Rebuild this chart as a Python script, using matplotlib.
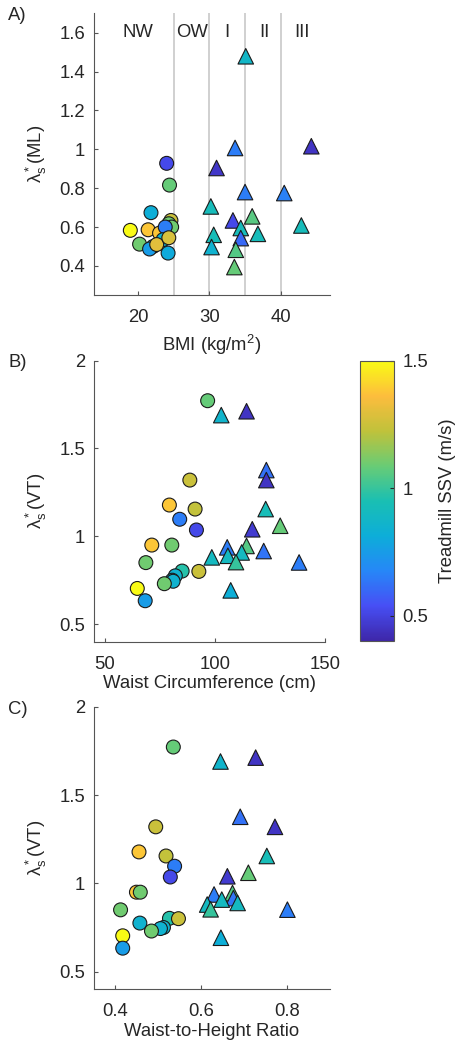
import numpy as np
import matplotlib.pyplot as plt
from matplotlib.colors import LinearSegmentedColormap, Normalize
from matplotlib.ticker import FormatStrFormatter

plt.rcParams['font.family'] = ['Liberation Sans', 'DejaVu Sans']
plt.rcParams['mathtext.fontset'] = 'custom'
plt.rcParams['mathtext.rm'] = 'Liberation Sans'
plt.rcParams['mathtext.it'] = 'Liberation Sans:italic'
plt.rcParams['mathtext.sf'] = 'Liberation Sans'

# ---- panel A: BMI vs lambda*(ML) ----
bmi_nw = [24.0, 24.4, 21.8, 18.9, 21.4, 23.0, 24.6, 24.3, 24.7, 23.8, 20.2, 22.1, 21.6, 23.5, 24.2, 22.6, 24.3]
ml_nw = [0.928, 0.816, 0.674, 0.583, 0.586, 0.569, 0.634, 0.617, 0.600, 0.600, 0.512, 0.500, 0.487, 0.535, 0.466, 0.510, 0.545]
ssv_a_nw = [0.52, 1.08, 0.82, 1.50, 1.38, 1.38, 1.25, 1.10, 1.10, 0.65, 1.10, 0.85, 0.75, 0.85, 0.80, 1.30, 1.28]

bmi_ob = [35.1, 33.6, 44.3, 31.0, 35.0, 40.5, 30.2, 36.0, 33.3, 42.9, 34.4, 36.8, 30.6, 34.4, 30.3, 33.7, 33.5]
ml_ob = [1.479, 1.007, 1.016, 0.904, 0.780, 0.775, 0.706, 0.655, 0.634, 0.608, 0.595, 0.565, 0.560, 0.543, 0.497, 0.483, 0.394]
ssv_a_ob = [0.88, 0.65, 0.45, 0.46, 0.65, 0.66, 0.92, 1.06, 0.52, 0.92, 0.92, 0.92, 0.93, 0.60, 0.85, 1.05, 1.08]

# ---- panels B and C: waist, waist-to-height vs lambda*(VT) ----
waist_nw = [96.7, 88.6, 79.3, 91.0, 84.0, 91.6, 71.3, 80.4, 68.6, 85.1, 92.7, 82.0, 80.6, 81.0, 77.0, 64.7, 68.3]
whtr_nw = [0.535, 0.494, 0.455, 0.518, 0.538, 0.528, 0.449, 0.458, 0.412, 0.526, 0.547, 0.457, 0.512, 0.505, 0.484, 0.417, 0.417]
vt_nw = [1.772, 1.320, 1.178, 1.155, 1.097, 1.036, 0.950, 0.950, 0.850, 0.802, 0.800, 0.775, 0.750, 0.744, 0.730, 0.703, 0.633]
ssv_nw = [1.08, 1.25, 1.38, 1.23, 0.65, 0.52, 1.38, 1.10, 1.10, 0.97, 1.25, 0.85, 0.85, 0.85, 1.10, 1.50, 0.75]

waist_ob = [102.9, 114.4, 123.4, 123.4, 123.1, 129.7, 117.0, 105.6, 114.4, 122.2, 112.2, 105.9, 98.6, 109.6, 138.3, 107.2]
whtr_ob = [0.645, 0.727, 0.691, 0.772, 0.753, 0.710, 0.661, 0.630, 0.673, 0.675, 0.648, 0.685, 0.614, 0.622, 0.801, 0.646]
vt_ob = [1.690, 1.712, 1.377, 1.320, 1.155, 1.060, 1.040, 0.937, 0.945, 0.916, 0.908, 0.889, 0.880, 0.853, 0.851, 0.692]
ssv_ob = [0.86, 0.45, 0.62, 0.45, 0.93, 1.08, 0.47, 0.65, 1.05, 0.63, 0.90, 0.90, 0.90, 1.00, 0.65, 0.82]

bmi_cutoffs = [25, 30, 35, 40]
class_labels = ['NW', 'OW', 'I', 'II', 'III']
class_label_x = [20, 27.6, 32.4, 37.7, 43.0]

# parula-like colormap
parula = LinearSegmentedColormap.from_list('parula', [
    (0.2422, 0.1504, 0.6603),
    (0.2780, 0.3100, 0.9600),
    (0.1500, 0.5300, 0.9700),
    (0.0500, 0.6800, 0.8500),
    (0.1000, 0.7500, 0.7000),
    (0.4100, 0.8000, 0.4600),
    (0.7500, 0.7600, 0.2300),
    (0.9900, 0.7400, 0.2400),
    (0.9769, 0.9839, 0.0805),
])
norm = Normalize(vmin=0.4, vmax=1.5)

txt = '#262626'
spine = '#555555'
fs = 13.3

fig = plt.figure(figsize=(4.58, 10.5), dpi=100)
ax_a = fig.add_axes([0.2052, 0.719, 0.515, 0.2683])
ax_b = fig.add_axes([0.2052, 0.3889, 0.504, 0.2676])
ax_c = fig.add_axes([0.2052, 0.0578, 0.515, 0.2691])
cax = fig.add_axes([0.786, 0.3895, 0.0742, 0.2667])

circ = dict(marker='o', s=100, edgecolors='#1a1a1a', linewidths=0.8, cmap=parula, norm=norm, zorder=3)
tri = dict(marker='^', s=125, edgecolors='#1a1a1a', linewidths=0.8, cmap=parula, norm=norm, zorder=3)

# A
for xc in bmi_cutoffs:
    ax_a.axvline(xc, color='#c8c8c8', lw=1.2, zorder=1)
for lab, xl in zip(class_labels, class_label_x):
    ax_a.text(xl, 1.6, lab, ha='center', va='center', fontsize=fs, color=txt)
ax_a.scatter(bmi_nw, ml_nw, c=ssv_a_nw, **circ)
sc = ax_a.scatter(bmi_ob, ml_ob, c=ssv_a_ob, **tri)
ax_a.set_xlim(13.8, 46.9)
ax_a.set_ylim(0.25, 1.7)
ax_a.set_xticks([20, 30, 40])
ax_a.set_yticks([0.4, 0.6, 0.8, 1.0, 1.2, 1.4, 1.6])
ax_a.set_xlabel('BMI (kg/m$\\mathregular{^2}$)', fontsize=fs, color=txt, labelpad=5)
ax_a.set_ylabel('$\\mathregular{λ_s^*}$(ML)', fontsize=fs, color=txt, labelpad=7)

# B
ax_b.scatter(waist_nw, vt_nw, c=ssv_nw, **circ)
ax_b.scatter(waist_ob, vt_ob, c=ssv_ob, **tri)
ax_b.set_xlim(45, 150)
ax_b.set_ylim(0.4, 2)
ax_b.set_xticks([50, 100, 150])
ax_b.set_yticks([0.5, 1, 1.5, 2])
ax_b.set_xlabel('Waist Circumference (cm)', fontsize=fs, color=txt, labelpad=2)
ax_b.set_ylabel('$\\mathregular{λ_s^*}$(VT)', fontsize=fs, color=txt, labelpad=7)

# C
ax_c.scatter(whtr_nw, vt_nw, c=ssv_nw, **circ)
ax_c.scatter(whtr_ob, vt_ob, c=ssv_ob, **tri)
ax_c.set_xlim(0.35, 0.9)
ax_c.set_ylim(0.4, 2)
ax_c.set_xticks([0.4, 0.6, 0.8])
ax_c.set_yticks([0.5, 1, 1.5, 2])
ax_c.set_xlabel('Waist-to-Height Ratio', fontsize=fs, color=txt, labelpad=2)
ax_c.set_ylabel('$\\mathregular{λ_s^*}$(VT)', fontsize=fs, color=txt, labelpad=7)

for ax in (ax_a, ax_b, ax_c):
    for side in ('top', 'right'):
        ax.spines[side].set_visible(False)
    for side in ('left', 'bottom'):
        ax.spines[side].set_color(spine)
        ax.spines[side].set_linewidth(0.8)
    ax.tick_params(direction='in', length=3, width=0.8, color=spine, labelsize=fs, labelcolor=txt)
    ax.tick_params(axis='x', pad=10)
    ax.tick_params(axis='y', pad=6.5)
    ax.xaxis.set_major_formatter(FormatStrFormatter('%g'))
    ax.yaxis.set_major_formatter(FormatStrFormatter('%g'))

cb = fig.colorbar(sc, cax=cax)
cb.set_ticks([0.5, 1, 1.5])
cb.ax.yaxis.set_major_formatter(FormatStrFormatter('%g'))
cb.ax.tick_params(direction='in', length=3, width=0.8, color=txt, labelsize=fs, labelcolor=txt, pad=6)
cb.outline.set_edgecolor(spine)
cb.outline.set_linewidth(0.8)
cb.set_label('Treadmill SSV (m/s)', fontsize=fs, color=txt, labelpad=8)

fig.text(8 / 458, 1 - 15 / 1050, 'A)', fontsize=fs, color=txt, ha='left', va='center')
fig.text(8 / 458, 1 - 362 / 1050, 'B)', fontsize=fs, color=txt, ha='left', va='center')
fig.text(8 / 458, 1 - 710 / 1050, 'C)', fontsize=fs, color=txt, ha='left', va='center')

fig.savefig('out.png', dpi=100)
